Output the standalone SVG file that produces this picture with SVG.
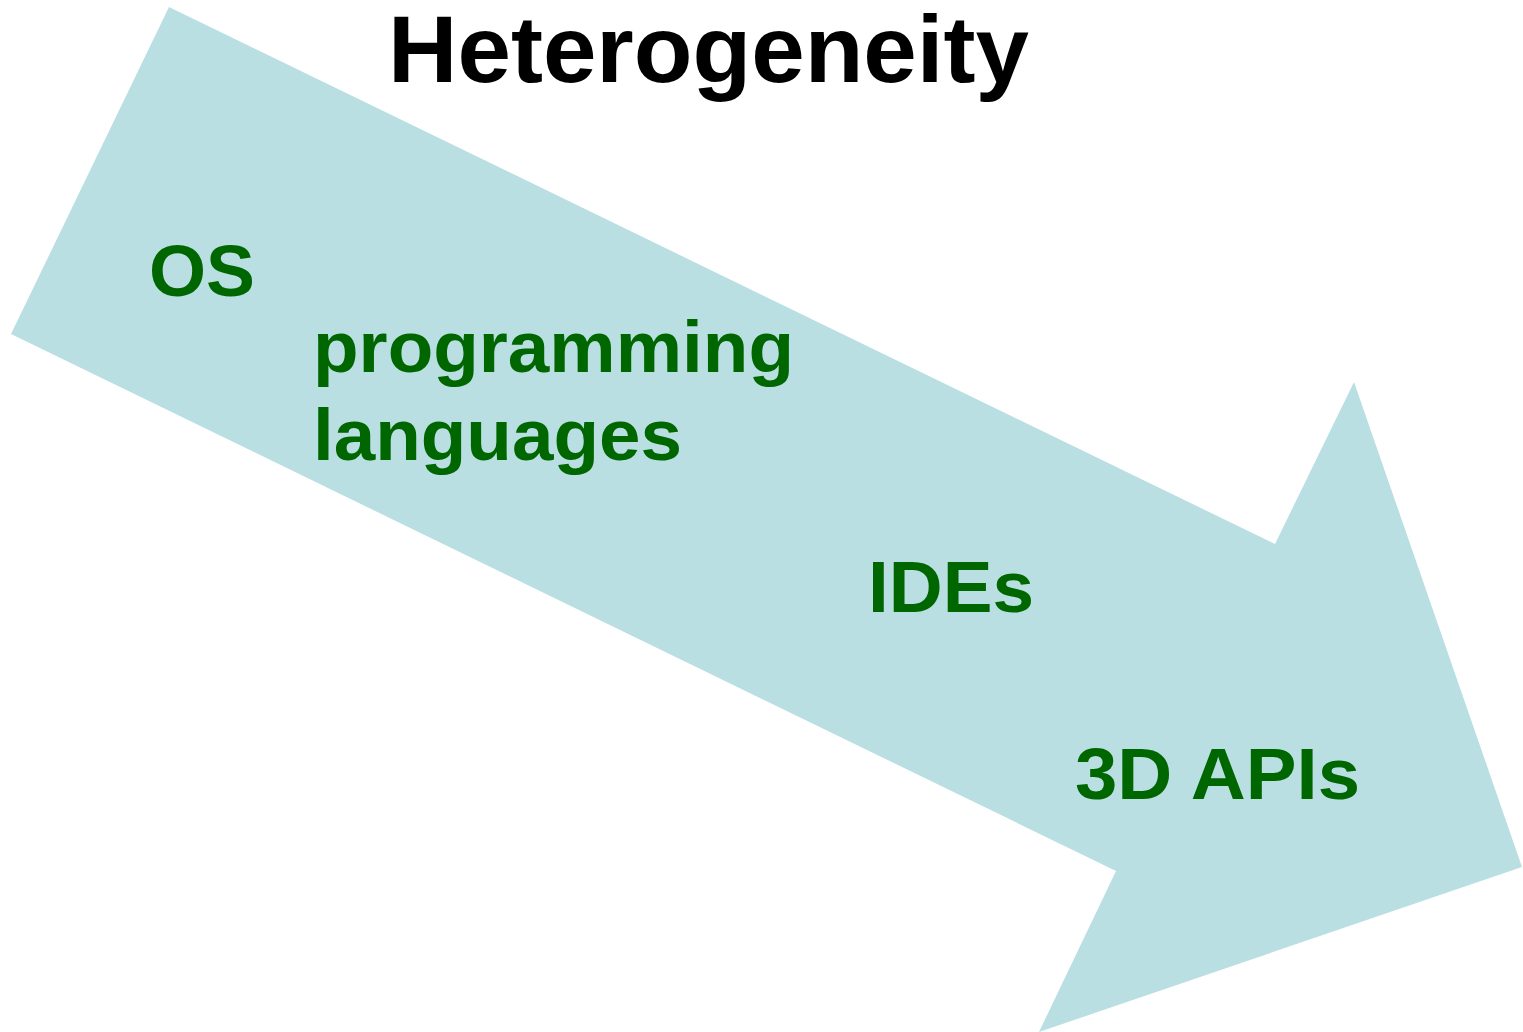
<svg xmlns="http://www.w3.org/2000/svg" width="1523" height="1032" viewBox="0 0 1523 1032">
  <style>
    .title { font-family: "Liberation Sans", Arial, sans-serif; font-weight: bold; font-size: 95px; fill: #000000; }
    .item { font-family: "Liberation Sans", Arial, sans-serif; font-weight: bold; font-size: 72px; fill: #006600; }
  </style>
  <rect width="1523" height="1032" fill="#ffffff"/>
  <!-- big downward-sloping arrow -->
  <g id="arrow">
    <polygon points="169,7 1275,544 1354,382 1522,867 1039,1032 1116,871 11,334" fill="#B9DFE3"/>
  </g>
  <g id="title">
    <text class="title" x="388" y="82" textLength="641" lengthAdjust="spacingAndGlyphs">Heterogeneity</text>
  </g>
  <g id="os">
    <text class="item" x="149" y="296" textLength="106" lengthAdjust="spacingAndGlyphs">OS</text>
  </g>
  <g id="languages">
    <text class="item" x="313" y="372" textLength="481" lengthAdjust="spacingAndGlyphs">programming</text>
    <text class="item" x="313" y="460" textLength="369" lengthAdjust="spacingAndGlyphs">languages</text>
  </g>
  <g id="ides">
    <text class="item" x="868" y="612" textLength="166" lengthAdjust="spacingAndGlyphs">IDEs</text>
  </g>
  <g id="apis">
    <text class="item" x="1075" y="799" textLength="285" lengthAdjust="spacingAndGlyphs">3D APIs</text>
  </g>
  <g id="connectors"/>
</svg>
